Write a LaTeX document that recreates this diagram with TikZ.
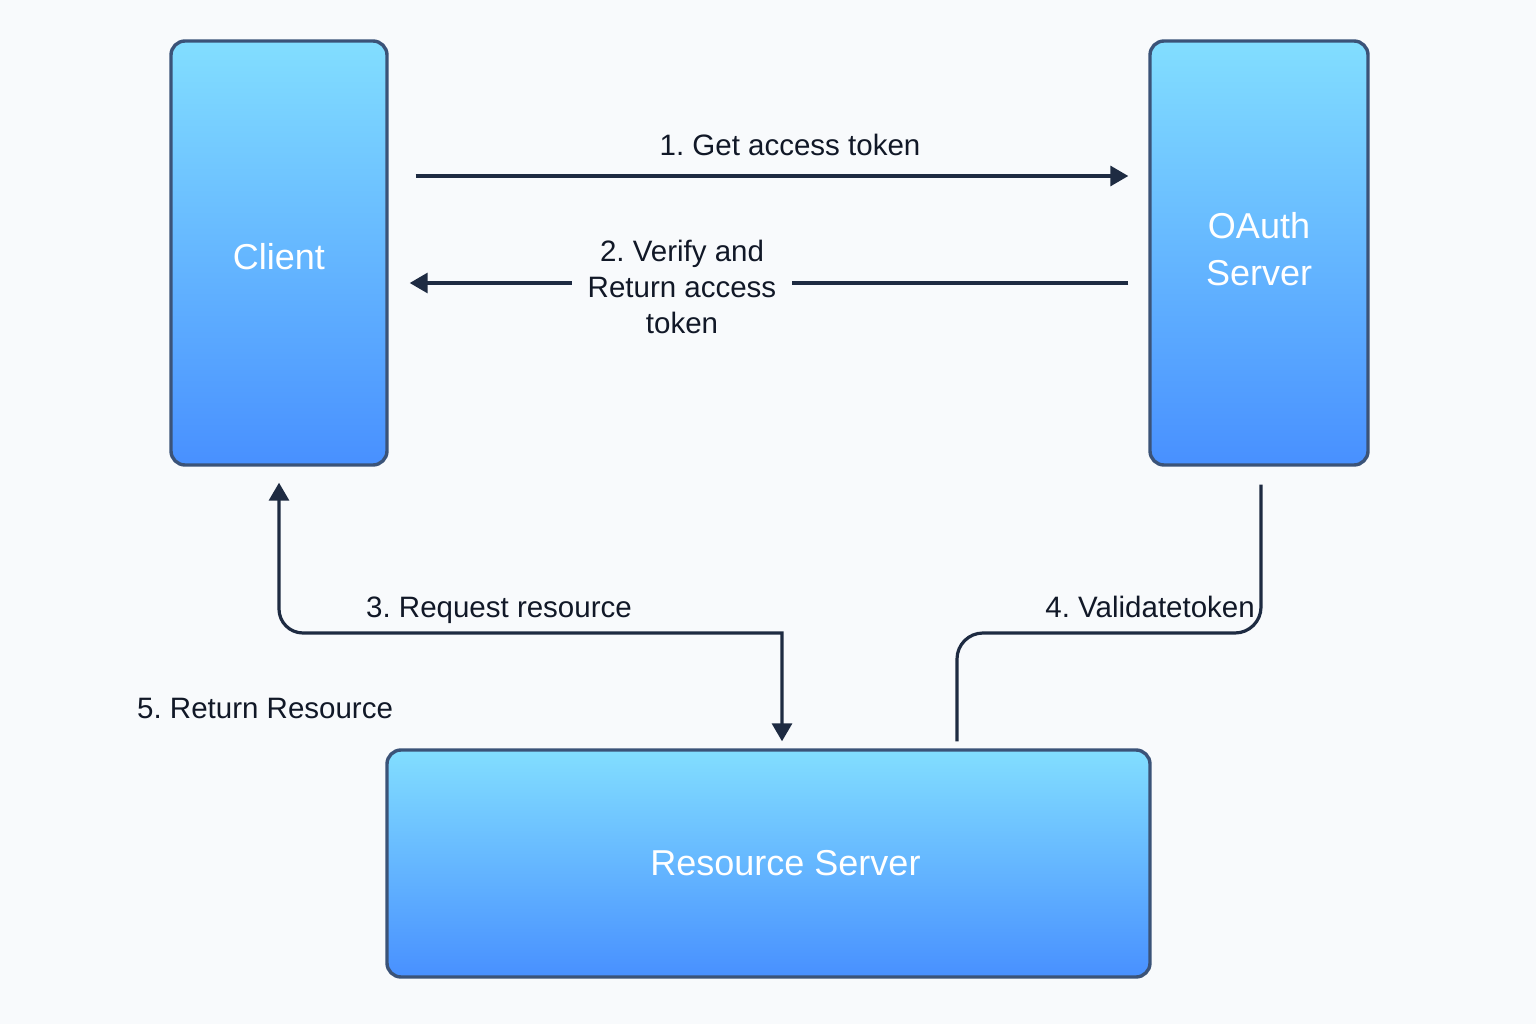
\documentclass[tikz,border=0pt]{standalone}
\usepackage{fontspec}
\setmainfont{Liberation Sans}
\frenchspacing
\usetikzlibrary{arrows.meta}
\definecolor{bg}{HTML}{F8FAFC}
\definecolor{boxtop}{HTML}{82DEFF}
\definecolor{boxbot}{HTML}{4890FF}
\definecolor{boxline}{HTML}{3B5378}
\definecolor{wire}{HTML}{1E2B42}
\definecolor{ink}{HTML}{111827}
\tikzset{
  box/.style={draw=boxline, line width=3.4pt, rounded corners=14pt,
    top color=boxtop, bottom color=boxbot, text=white,
    font=\fontsize{36}{47}\selectfont, align=center, inner sep=0pt},
  wireline/.style={draw=wire, line width=3.2pt},
  tip/.tip={Triangle[length=18pt,width=20pt]},
  lbl/.style={text=ink, font=\fontsize{29.5}{36}\selectfont, align=center, inner sep=0pt}
}
\begin{document}
\begin{tikzpicture}[x=1pt,y=-1pt]
\fill[bg] (0,0) rectangle (1536,1024);
\useasboundingbox (0,0) rectangle (1536,1024);

\node[box, minimum width=216pt, minimum height=424pt] (client) at (279,253) {\raisebox{-17pt}[0pt][0pt]{Client}};
\node[box, minimum width=218pt, minimum height=424pt] (oauth) at (1259,253)
  {\raisebox{8pt}{\begin{tabular}{@{}c@{}}OAuth\\Server\end{tabular}}};
\node[box, minimum width=763pt, minimum height=227pt] (res) at (768.5,863.5) {\hspace*{34pt}\raisebox{2pt}{Resource Server}};

% 1
\draw[wireline, -tip, shorten <=27pt, shorten >=20pt] (client.east |- 0,176) -- (oauth.west |- 0,176);
\node[lbl, anchor=base] (l1) at (790,156) {1. Get access token};

% 2
\draw[wireline, -tip, shorten <=20pt, shorten >=21pt] (oauth.west |- 0,283) -- (client.east |- 0,283);
\node[lbl, fill=bg, inner xsep=16pt, inner ysep=2pt] (l2) at (682,287) {2. Verify and\\Return access\\token};

% 3
\draw[wireline, tip-tip, shorten <=16pt, shorten >=7pt]
  (client.south) [rounded corners=24pt] -- (279,633) -- (600,633) [sharp corners] -- (782,633) -- (res.north -| 782,0);
\node[lbl, anchor=base] (l3) at (499,617) {3. Request resource};

% 4
\draw[wireline, shorten <=18pt, shorten >=7pt, rounded corners=26pt]
  (oauth.south -| 1261,0) -- (1261,633) -- (957,633) -- (res.north -| 957,0);
\node[lbl, anchor=base east] (l4) at (1255,617) {4. Validatetoken};

% 5
\node[lbl, anchor=base west] (l5) at (137,718) {5. Return Resource};
\end{tikzpicture}
\end{document}
